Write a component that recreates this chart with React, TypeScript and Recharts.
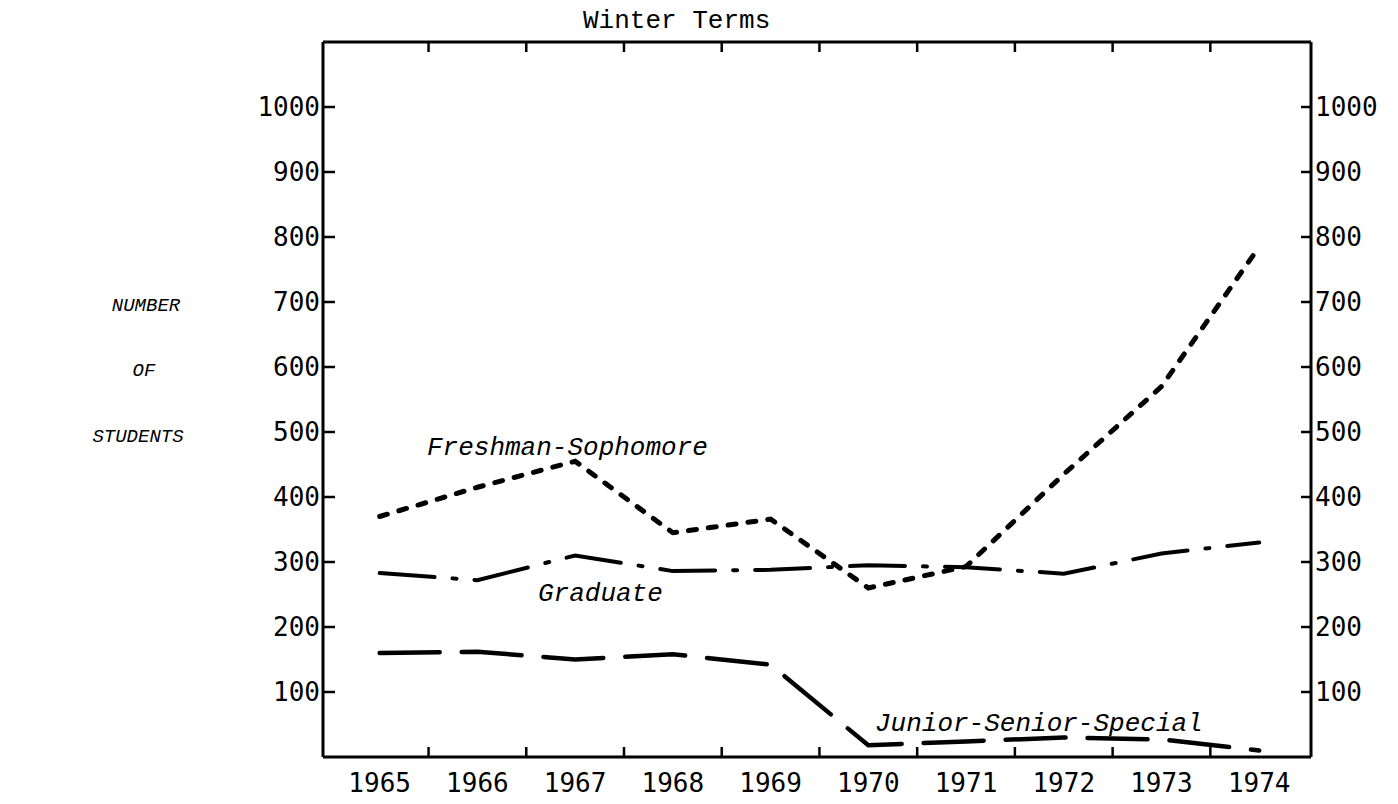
import { LineChart, Line, XAxis, YAxis } from 'recharts'

// winter term enrolment by class group
const years = [1965, 1966, 1967, 1968, 1969, 1970, 1971, 1972, 1973, 1974]
const freshmanSophomore = [370, 415, 455, 345, 366, 260, 293, 435, 570, 785]
const graduate = [283, 272, 310, 286, 288, 295, 292, 282, 313, 330]
const juniorSeniorSpecial = [160, 162, 150, 158, 142, 18, 24, 30, 27, 10]
const yTicks = [100, 200, 300, 400, 500, 600, 700, 800, 900, 1000]

const data = years.map((year, i) => ({
  year,
  fresh: freshmanSophomore[i],
  grad: graduate[i],
  junior: juniorSeniorSpecial[i],
}))

// tick marks sit between the years, labels on the years
const xTicks = years.flatMap((y, i) => (i < years.length - 1 ? [y, y + 0.5] : [y]))
const xDomain = [1964.42, 1974.53]

const W = 1398
const H = 804
const NUM_FONT = '"DejaVu Sans Mono", monospace'
const TYPE_FONT = '"Liberation Mono", "Courier New", monospace'

const BottomTick = (props: any) => {
  const { x, y, payload } = props
  const v = payload.value
  if (!Number.isInteger(v)) {
    return <line x1={x} y1={y} x2={x} y2={y - 10} stroke="#000" strokeWidth={2.5} />
  }
  return (
    <text x={x} y={y + 35} textAnchor="middle" fontSize={26} fontFamily={NUM_FONT} fill="#000">
      {v}
    </text>
  )
}

const TopTick = (props: any) => {
  const { x, y, payload } = props
  if (Number.isInteger(payload.value)) return <g />
  return <line x1={x} y1={y} x2={x} y2={y + 10} stroke="#000" strokeWidth={2.5} />
}

const LeftTick = (props: any) => {
  const { x, y, payload } = props
  return (
    <g>
      <line x1={x} y1={y} x2={x + 12} y2={y} stroke="#000" strokeWidth={2.5} />
      <text x={x - 3} y={y + 9} textAnchor="end" fontSize={26} fontFamily={NUM_FONT} fill="#000">
        {payload.value}
      </text>
    </g>
  )
}

const RightTick = (props: any) => {
  const { x, y, payload } = props
  return (
    <g>
      <line x1={x - 10} y1={y} x2={x} y2={y} stroke="#000" strokeWidth={2.5} />
      <text x={x + 4} y={y + 9} textAnchor="start" fontSize={26} fontFamily={NUM_FONT} fill="#000">
        {payload.value}
      </text>
    </g>
  )
}

export default function App() {
  return (
    <div style={{ position: 'absolute', left: 0, top: 0, width: W, height: H, background: '#fff' }}>
      <LineChart
        width={W}
        height={H}
        data={data}
        margin={{ top: 41, right: 7, bottom: 7, left: 243 }}
      >
        <XAxis
          xAxisId="bottom"
          type="number"
          dataKey="year"
          domain={xDomain}
          ticks={xTicks}
          interval={0}
          height={40}
          tickSize={0}
          tickMargin={0}
          tickLine={false}
          axisLine={{ stroke: '#000', strokeWidth: 3 }}
          tick={<BottomTick />}
        />
        <XAxis
          xAxisId="top"
          orientation="top"
          type="number"
          dataKey="year"
          domain={xDomain}
          ticks={xTicks}
          interval={0}
          height={1}
          tickSize={0}
          tickMargin={0}
          tickLine={false}
          axisLine={{ stroke: '#000', strokeWidth: 3 }}
          tick={<TopTick />}
        />
        <YAxis
          yAxisId="left"
          type="number"
          domain={[0, 1100]}
          ticks={yTicks}
          interval={0}
          width={80}
          tickSize={0}
          tickMargin={0}
          tickLine={false}
          axisLine={{ stroke: '#000', strokeWidth: 3 }}
          tick={<LeftTick />}
        />
        <YAxis
          yAxisId="right"
          orientation="right"
          type="number"
          domain={[0, 1100]}
          ticks={yTicks}
          interval={0}
          width={80}
          tickSize={0}
          tickMargin={0}
          tickLine={false}
          axisLine={{ stroke: '#000', strokeWidth: 3 }}
          tick={<RightTick />}
        />
        <Line
          xAxisId="bottom"
          yAxisId="left"
          type="linear"
          dataKey="fresh"
          stroke="#000"
          strokeWidth={5}
          strokeDasharray="8 12"
          strokeLinecap="round"
          dot={false}
          isAnimationActive={false}
        />
        {/* same domains on every axis, so the graduate line can sit on the top/right pair */}
        <Line
          xAxisId="top"
          yAxisId="right"
          type="linear"
          dataKey="grad"
          stroke="#000"
          strokeWidth={4}
          strokeDasharray="55 18 4 18"
          strokeLinecap="round"
          dot={false}
          isAnimationActive={false}
        />
        <Line
          xAxisId="bottom"
          yAxisId="left"
          type="linear"
          dataKey="junior"
          stroke="#000"
          strokeWidth={4.5}
          strokeDasharray="60 22"
          strokeLinecap="round"
          dot={false}
          isAnimationActive={false}
        />
      </LineChart>
      <svg
        width={W}
        height={H}
        style={{ position: 'absolute', left: 0, top: 0, pointerEvents: 'none' }}
      >
        <text x={583} y={28} fontSize={26} fontFamily={TYPE_FONT} fill="#000">Winter Terms</text>
        <g fontSize={19} fontFamily={TYPE_FONT} fontStyle="italic" fill="#000" textAnchor="middle">
          <text x={146} y={311}>NUMBER</text>
          <text x={144} y={376}>OF</text>
          <text x={138} y={442}>STUDENTS</text>
        </g>
        <g fontSize={26} fontFamily={TYPE_FONT} fontStyle="italic" fill="#000">
          <text x={427} y={455}>Freshman-Sophomore</text>
          <text x={538} y={601}>Graduate</text>
          <text x={875} y={731}>Junior-Senior-Special</text>
        </g>
      </svg>
    </div>
  )
}
